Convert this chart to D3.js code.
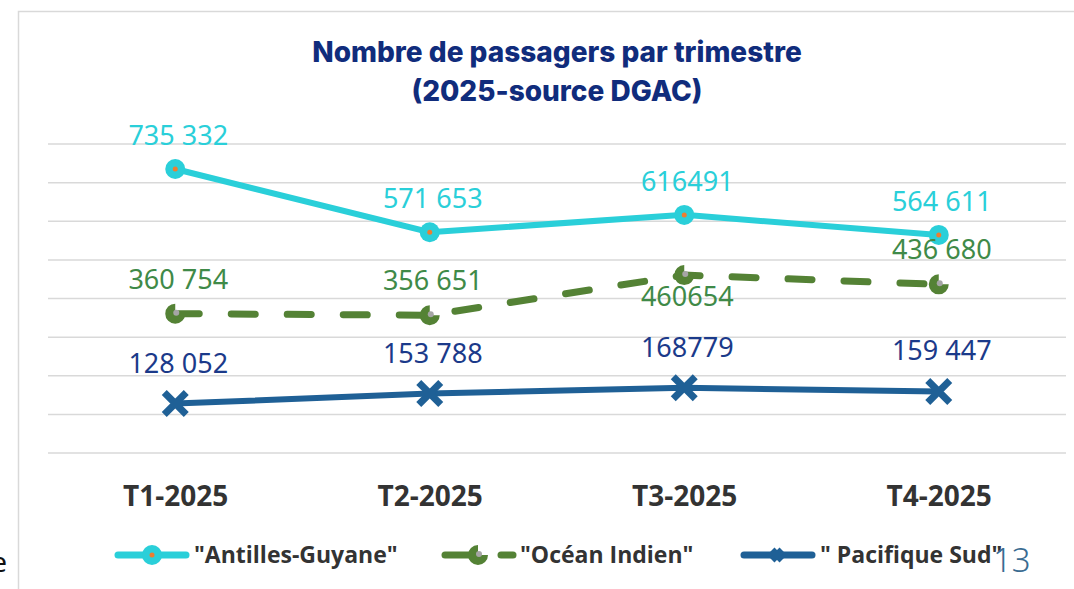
<!DOCTYPE html>
<html lang="fr">
  <head>
    <meta charset="UTF-8" />
    <title>Nombre de passagers par trimestre</title>
    <script src="https://d3js.org/d3.v7.min.js"></script>
    <style>
      html, body { margin: 0; padding: 0; background: #fff; overflow: hidden; }
    </style>
  </head>
  <body>
    <script>
      // data
      const categories = ["T1-2025", "T2-2025", "T3-2025", "T4-2025"];
      const antilles = [735332, 571653, 616491, 564611];
      const ocean = [360754, 356651, 460654, 436680];
      const pacifique = [128052, 153788, 168779, 159447];
      // labels as printed (spacing differs between points)
      const antillesLabels = ["735 332", "571 653", "616491", "564 611"];
      const oceanLabels = ["360 754", "356 651", "460654", "436 680"];
      const pacifiqueLabels = ["128 052", "153 788", "168779", "159 447"];
      const seriesNames = ['"Antilles-Guyane"', '"Océan Indien"', '" Pacifique Sud"'];

      const width = 1074;
      const height = 589;

      const svg = d3
        .select("body")
        .append("svg")
        .attr("width", width)
        .attr("height", height);

      // chart frame (runs off the right/bottom of the slide)
      svg
        .append("rect")
        .attr("x", 18.5)
        .attr("y", 11.5)
        .attr("width", 1100)
        .attr("height", 700)
        .attr("fill", "none")
        .attr("stroke", "#d9d9d9")
        .attr("stroke-width", 1.5);

      const x = d3.scalePoint().domain(categories).range([48, 1066]).padding(0.5);
      const y = d3.scaleLinear().domain([0, 800000]).range([453, 144]);

      // gridlines
      svg
        .append("g")
        .selectAll("line")
        .data(y.ticks(8))
        .join("line")
        .attr("x1", 48)
        .attr("x2", 1066)
        .attr("y1", (d) => y(d))
        .attr("y2", (d) => y(d))
        .attr("stroke", "#d9d9d9")
        .attr("stroke-width", 1.5);

      // title
      const title = svg
        .append("text")
        .attr("x", 557)
        .attr("text-anchor", "middle")
        .attr("fill", "#102c7c")
        .style("font-family", "Inter, 'Noto Sans', sans-serif")
        .style("font-weight", 800)
        .style("font-size", "28px");
      title.append("tspan").attr("x", 557).attr("y", 62).text("Nombre de passagers par trimestre");
      title.append("tspan").attr("x", 557).attr("y", 101).text("(2025-source DGAC)");

      // x axis labels
      const xAxis = d3.axisBottom(x).tickSize(0).tickPadding(0);
      const gx = svg
        .append("g")
        .attr("transform", "translate(0,487)")
        .call(xAxis);
      gx.select(".domain").remove();
      gx.selectAll("text")
        .attr("fill", "#333")
        .attr("dy", 0)
        .attr("y", 19)
        .style("font-family", "'Open Sans', sans-serif")
        .style("font-weight", 700)
        .style("font-size", "28px");

      const line = d3
        .line()
        .x((d, i) => x(categories[i]))
        .y((d) => y(d));

      // Pacifique Sud
      svg
        .append("path")
        .datum(pacifique)
        .attr("d", line)
        .attr("fill", "none")
        .attr("stroke", "#1f6096")
        .attr("stroke-width", 6);

      // Océan Indien (dashed)
      svg
        .append("path")
        .datum(ocean)
        .attr("d", line)
        .attr("fill", "none")
        .attr("stroke", "#548235")
        .attr("stroke-width", 7)
        .attr("stroke-linecap", "round")
        .attr("stroke-dasharray", "24,32");

      // Antilles-Guyane
      svg
        .append("path")
        .datum(antilles)
        .attr("d", line)
        .attr("fill", "none")
        .attr("stroke", "#2acfd9")
        .attr("stroke-width", 6);

      // markers
      const xPath = (s) =>
        `M${-s},${-s}L${s},${s}M${s},${-s}L${-s},${s}`;
      const greenArc = d3.arc().innerRadius(0).outerRadius(10).startAngle(Math.PI / 2).endAngle(2 * Math.PI);

      function circleMarker(g, cx, cy, r) {
        g.append("circle").attr("cx", cx).attr("cy", cy).attr("r", r).attr("fill", "#2acfd9");
        g.append("circle").attr("cx", cx).attr("cy", cy).attr("r", 2.5).attr("fill", "#ed7d31");
      }
      function pieMarker(g, cx, cy, r) {
        g.append("path")
          .attr("transform", `translate(${cx},${cy})`)
          .attr("d", greenArc.outerRadius(r)())
          .attr("fill", "#548235");
        g.append("circle").attr("cx", cx + 1).attr("cy", cy - 1).attr("r", 3).attr("fill", "#a5a5a5");
      }
      function crossMarker(g, cx, cy, s, w) {
        g.append("path")
          .attr("transform", `translate(${cx},${cy})`)
          .attr("d", xPath(s))
          .attr("stroke", "#1f6096")
          .attr("stroke-width", w);
      }

      const marks = svg.append("g");
      pacifique.forEach((v, i) => crossMarker(marks, x(categories[i]), y(v), 11, 7));
      ocean.forEach((v, i) => pieMarker(marks, x(categories[i]), y(v), 10));
      antilles.forEach((v, i) => circleMarker(marks, x(categories[i]), y(v), 10));

      // data labels
      const labelFont = (sel) =>
        sel
          .attr("text-anchor", "middle")
          .style("font-family", "'Noto Sans', sans-serif")
          .style("font-size", "27px");

      svg
        .append("g")
        .selectAll("text")
        .data(antilles)
        .join("text")
        .call(labelFont)
        .attr("fill", "#2acfd9")
        .attr("x", (d, i) => x(categories[i]) + 3)
        .attr("y", (d) => y(d) - 24)
        .text((d, i) => antillesLabels[i]);

      svg
        .append("g")
        .selectAll("text")
        .data(ocean)
        .join("text")
        .call(labelFont)
        .attr("fill", "#3f8a48")
        .attr("x", (d, i) => x(categories[i]) + 3)
        .attr("y", (d, i) => (i === 2 ? y(d) + 31 : y(d) - 25))
        .text((d, i) => oceanLabels[i]);

      svg
        .append("g")
        .selectAll("text")
        .data(pacifique)
        .join("text")
        .call(labelFont)
        .attr("fill", "#1b3a8a")
        .attr("x", (d, i) => x(categories[i]) + 3)
        .attr("y", (d) => y(d) - 31)
        .text((d, i) => pacifiqueLabels[i]);

      // legend
      const legend = svg.append("g").attr("transform", "translate(0,555)");
      const legendText = (sel) =>
        sel
          .attr("fill", "#333")
          .attr("dy", "0.35em")
          .style("font-family", "'Open Sans', sans-serif")
          .style("font-weight", 700)
          .style("font-size", "23px");

      legend.append("line").attr("x1", 118).attr("x2", 186).attr("stroke", "#2acfd9").attr("stroke-width", 7).attr("stroke-linecap", "round");
      circleMarker(legend, 152, 0, 10);
      legend.append("text").attr("x", 194).text(seriesNames[0]).call(legendText);

      legend.append("line").attr("x1", 445).attr("x2", 476).attr("stroke", "#548235").attr("stroke-width", 7).attr("stroke-linecap", "round");
      legend.append("line").attr("x1", 501).attr("x2", 513).attr("stroke", "#548235").attr("stroke-width", 7).attr("stroke-linecap", "round");
      pieMarker(legend, 478, 0, 10);
      legend.append("text").attr("x", 520).text(seriesNames[1]).call(legendText);

      legend.append("line").attr("x1", 744).attr("x2", 812).attr("stroke", "#1f6096").attr("stroke-width", 7).attr("stroke-linecap", "round");
      crossMarker(legend, 777, 0, 5, 7);
      legend.append("text").attr("x", 820).text(seriesNames[2]).call(legendText);

      // slide page number and cut-off text at the left edge
      svg.append("text")
        .attr("x", 993)
        .attr("y", 572)
        .attr("fill", "#3a6b91")
        .style("font-family", "'Noto Sans', sans-serif")
        .style("font-weight", 300)
        .style("font-size", "33px")
        .text("13");
      svg.append("text")
        .attr("x", 7)
        .attr("y", 572)
        .attr("text-anchor", "end")
        .attr("fill", "#111")
        .style("font-family", "'Noto Sans', sans-serif")
        .style("font-size", "28px")
        .text("e");
    </script>
  </body>
</html>
